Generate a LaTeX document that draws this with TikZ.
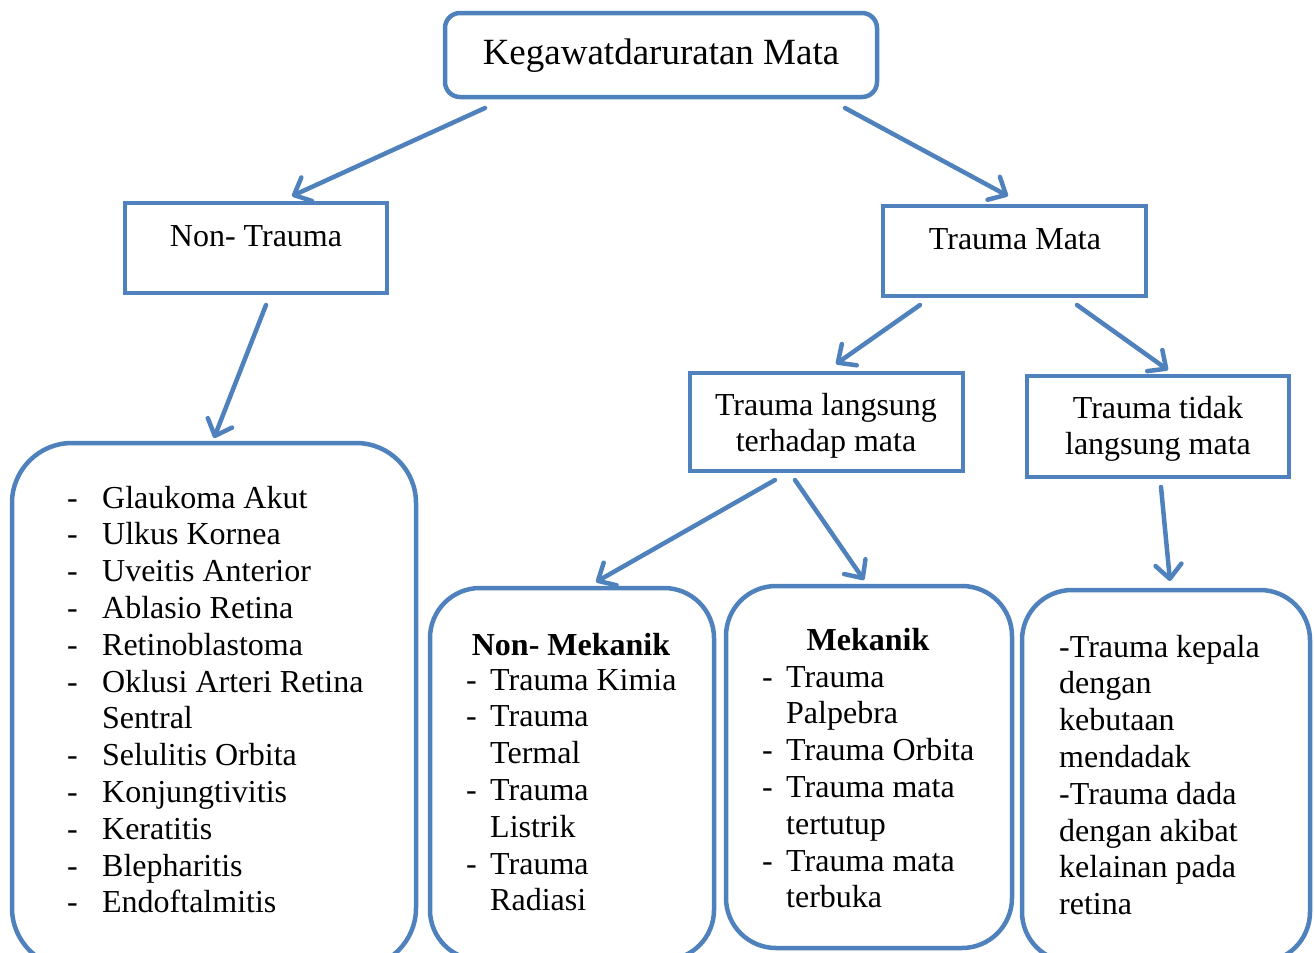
\documentclass[tikz,border=0pt]{standalone}
\usepackage{fontspec}
\setmainfont{Liberation Serif}
\usetikzlibrary{arrows.meta}
\definecolor{ob}{HTML}{4F81BD}
\begin{document}
\begin{tikzpicture}[x=1pt,y=-1pt,
  sbox/.style={draw=ob, line width=4.5pt, rectangle, inner sep=0pt},
  rbox/.style={sbox, rounded corners=#1},
  conn/.style={draw=ob, line width=4.5pt, line cap=round,
    -{Straight Barb[length=14pt,width=26pt,line cap=round,line join=round]}},
  txt/.style={inner sep=0pt, text=black, font=\fontsize{32}{36.8}\selectfont}]
\useasboundingbox (0,0) rectangle (1315,953);
\clip (0,0) rectangle (1315,953);

% boxes
\node[rbox=15pt, minimum width=432pt, minimum height=84pt] (top) at (661,55) {};
\node[sbox, minimum width=262pt, minimum height=90pt] (nt) at (256,248) {};
\node[sbox, minimum width=263pt, minimum height=90pt] (tm) at (1014.5,251) {};
\node[sbox, minimum width=273pt, minimum height=98pt] (tl) at (826.5,422) {};
\node[sbox, minimum width=262pt, minimum height=101pt] (ttl) at (1158,426.5) {};
\node[rbox=60pt, minimum width=404pt, minimum height=525pt] (lst) at (214,705.5) {};
\node[rbox=50pt, minimum width=284pt, minimum height=372pt] (nm) at (572,774) {};
\node[rbox=50pt, minimum width=286pt, minimum height=362pt] (mk) at (869,767) {};
\node[rbox=50pt, minimum width=288pt, minimum height=372pt] (rt) at (1166,776) {};

% texts
\node[txt, anchor=base, font=\fontsize{37}{40}\selectfont] (toptxt) at (661,64) {Kegawatdaruratan Mata};
\node[txt, anchor=base] (nttxt) at (256,246) {Non- Trauma};
\node[txt, anchor=base] (tmtxt) at (1015,249) {Trauma Mata};
\node[txt, anchor=base] (tltxt) at (826,415) {\begin{tabular}[t]{@{}c@{}}Trauma langsung\\terhadap mata\end{tabular}};
\node[txt, anchor=base] (ttltxt) at (1158,418) {\begin{tabular}[t]{@{}c@{}}Trauma tidak\\langsung mata\end{tabular}};

\node[txt, anchor=base west] (lsttxt) at (67,508) {\begin{tabular}[t]{@{}p{35pt}@{}l@{}}
- & Glaukoma Akut\\
- & Ulkus Kornea\\
- & Uveitis Anterior\\
- & Ablasio Retina\\
- & Retinoblastoma\\
- & Oklusi Arteri Retina\\
  & Sentral\\
- & Selulitis Orbita\\
- & Konjungtivitis\\
- & Keratitis\\
- & Blepharitis\\
- & Endoftalmitis
\end{tabular}};

\node[txt, anchor=base, font=\fontsize{32}{36.8}\selectfont\bfseries] (nmhead) at (571,655) {Non- Mekanik};
\node[txt, anchor=base west] (nmtxt) at (466,690) {\begin{tabular}[t]{@{}p{24pt}@{}l@{}}
- & Trauma Kimia\\
- & Trauma\\
  & Termal\\
- & Trauma\\
  & Listrik\\
- & Trauma\\
  & Radiasi
\end{tabular}};

\node[txt, anchor=base, font=\fontsize{32}{36.8}\selectfont\bfseries] (mkhead) at (868,650) {Mekanik};
\node[txt, anchor=base west] (mktxt) at (762,687) {\begin{tabular}[t]{@{}p{24pt}@{}l@{}}
- & Trauma\\
  & Palpebra\\
- & Trauma Orbita\\
- & Trauma mata\\
  & tertutup\\
- & Trauma mata\\
  & terbuka
\end{tabular}};

\node[txt, anchor=base west] (rttxt) at (1059,657) {\begin{tabular}[t]{@{}l@{}}
-Trauma kepala\\
dengan\\
kebutaan\\
mendadak\\
-Trauma dada\\
dengan akibat\\
kelainan pada\\
retina
\end{tabular}};

% connector ends
\coordinate (s1) at (485,108); \coordinate (e1) at (292,196);
\coordinate (s2) at (845,108); \coordinate (e2) at (1008,196);
\coordinate (s3) at (266,305); \coordinate (e3) at (214,438);
\coordinate (s4) at (920,305); \coordinate (e4) at (836,364);
\coordinate (s5) at (1077,305); \coordinate (e5) at (1168,370);
\coordinate (s6) at (775,480); \coordinate (e6) at (596,582);
\coordinate (s7) at (795,480); \coordinate (e7) at (864,580);
\coordinate (s8) at (1161,487); \coordinate (e8) at (1170,581);

\draw[conn] (s1) -- (e1);
\draw[conn] (s2) -- (e2);
\draw[conn] (s3) -- (e3);
\draw[conn] (s4) -- (e4);
\draw[conn] (s5) -- (e5);
\draw[conn] (s6) -- (e6);
\draw[conn] (s7) -- (e7);
\draw[conn] (s8) -- (e8);
\end{tikzpicture}
\end{document}
